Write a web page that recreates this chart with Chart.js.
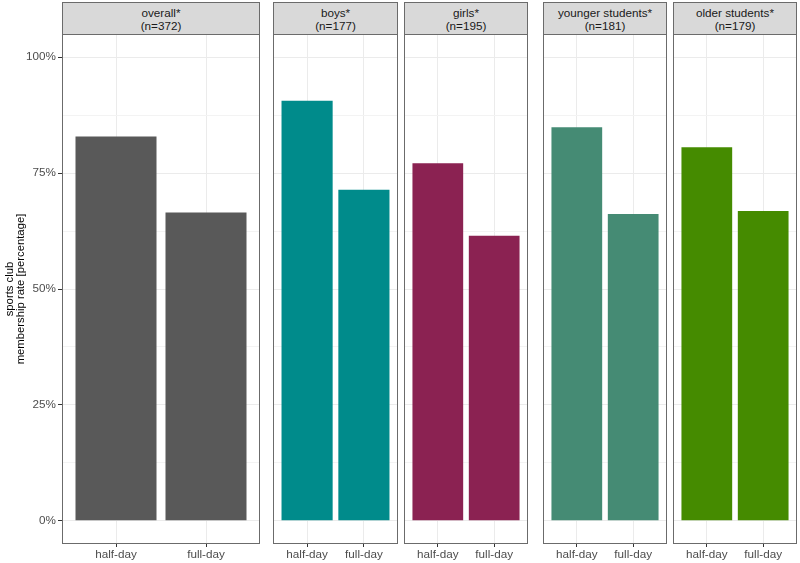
<!DOCTYPE html>
<html>
<head>
<meta charset="utf-8">
<script src="https://cdn.jsdelivr.net/npm/chart.js@4/dist/chart.umd.min.js"></script>
<style>
  html, body { margin: 0; padding: 0; background: #fff; }
  #wrap { position: relative; width: 800px; height: 563px; overflow: hidden; font-family: "Liberation Sans", Arial, sans-serif; }
  canvas { position: absolute; top: 34px; }
  .strip {
    position: absolute; top: 2px; height: 33px; box-sizing: border-box;
    background: #d9d9d9; border: 1px solid #6b6b6b;
    display: flex; flex-direction: column; justify-content: center; align-items: center;
    font-size: 11.7px; line-height: 13.5px; color: #1a1a1a; padding-top: 1px;
  }
</style>
</head>
<body>
<div id="wrap"></div>
<script>
// data
const categories = ["half-day", "full-day"];
const groups = ["overall*", "boys*", "girls*", "younger students*", "older students*"];
const groupN = ["(n=372)", "(n=177)", "(n=195)", "(n=181)", "(n=179)"];
const overallRates = [82.9, 66.5];
const boysRates = [90.6, 71.4];
const girlsRates = [77.1, 61.5];
const youngerRates = [84.9, 66.2];
const olderRates = [80.6, 66.8];
const yMajor = [0, 25, 50, 75, 100];

const allRates = [overallRates, boysRates, girlsRates, youngerRates, olderRates];
const colors = ["#595959", "#008b8b", "#8b2252", "#458b74", "#458b00"];

// panel x extents (px)
const panels = [
  { left: 62, right: 260 },
  { left: 273, right: 398 },
  { left: 404, right: 528 },
  { left: 543, right: 667 },
  { left: 673, right: 797 },
];
const yAxisWidth = 62;
const FONT = "'Liberation Sans', Arial, sans-serif";
Chart.defaults.font.family = FONT;

const yGrid = [];
yMajor.forEach((v, i) => {
  yGrid.push(v);
  if (i < yMajor.length - 1) yGrid.push((v + yMajor[i + 1]) / 2);
});
yGrid.sort((a, b) => a - b);

const panelBorder = {
  id: "panelBorder",
  afterDraw(chart) {
    const { ctx, chartArea: a } = chart;
    ctx.save();
    ctx.strokeStyle = "#6b6b6b";
    ctx.lineWidth = 1;
    ctx.strokeRect(a.left + 0.5, a.top + 0.5, a.right - a.left - 1, a.bottom - a.top - 1);
    ctx.restore();
  },
};

const $wrap = document.getElementById("wrap");

panels.forEach((p, i) => {
  const first = i === 0;
  const $strip = document.createElement("div");
  $strip.className = "strip";
  $strip.style.left = p.left + "px";
  $strip.style.width = (p.right - p.left) + "px";
  $strip.innerHTML = `<span>${groups[i]}</span><span>${groupN[i]}</span>`;
  $wrap.appendChild($strip);

  const $canvas = document.createElement("canvas");
  const left = first ? p.left - yAxisWidth : p.left;
  $canvas.width = p.right - left;
  $canvas.height = 563 - 34;
  $canvas.style.left = left + "px";
  $wrap.appendChild($canvas);

  const rates = allRates[i];

  new Chart($canvas.getContext("2d"), {
    type: "bar",
    data: {
      datasets: [
        {
          data: rates.map((v, k) => ({ x: k + 1, y: v })),
          backgroundColor: colors[i],
          borderWidth: 0,
          barPercentage: 0.9,
          categoryPercentage: 1,
        },
      ],
    },
    options: {
      responsive: false,
      animation: false,
      devicePixelRatio: 1,
      layout: { padding: 0 },
      plugins: { legend: { display: false }, tooltip: { enabled: false } },
      scales: {
        x: {
          type: "linear",
          min: 0.4,
          max: 2.6,
          offset: false,
          afterBuildTicks: (s) => { s.ticks = categories.map((c, k) => ({ value: k + 1 })); },
          afterFit: (s) => { s.height = 19; s.paddingLeft = 0; s.paddingRight = 0; },
          ticks: {
            callback: (v) => categories[v - 1],
            color: "#4d4d4d",
            font: { size: 11.7 },
            padding: 1,
            maxRotation: 0,
            autoSkip: false,
          },
          grid: { color: "#ebebeb", offset: false, tickLength: 3, tickColor: "#333333" },
          border: { display: false },
        },
        y: {
          type: "linear",
          min: -5,
          max: 105,
          afterBuildTicks: (s) => { s.ticks = yGrid.map((v) => ({ value: v })); },
          afterFit: (s) => { s.width = first ? yAxisWidth : 0; s.paddingTop = 0; s.paddingBottom = 0; },
          ticks: {
            display: first,
            callback: (v) => (yMajor.includes(v) ? v + "%" : ""),
            color: "#4d4d4d",
            font: { size: 11.7 },
            padding: 2,
          },
          grid: {
            color: (c) => (c.tick && yMajor.includes(c.tick.value) ? "#ebebeb" : "#f3f3f3"),
            drawTicks: first,
            tickLength: 4,
            tickColor: (c) => (c.tick && yMajor.includes(c.tick.value) ? "#333333" : "rgba(0,0,0,0)"),
          },
          border: { display: false },
          title: {
            display: first,
            text: ["sports club", "membership rate [percentage]"],
            color: "#000",
            font: { size: 11.3, lineHeight: 1.0 },
            padding: { top: 4, bottom: 0 },
          },
        },
      },
    },
    plugins: [panelBorder],
  });
});
</script>
</body>
</html>
